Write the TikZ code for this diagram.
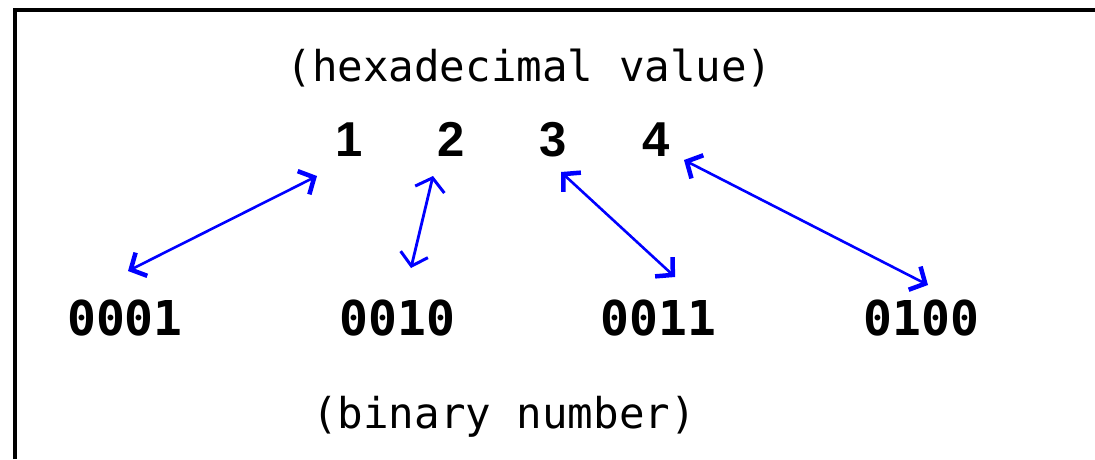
\documentclass[tikz,border=0pt]{standalone}
\usepackage{fontspec}
\usetikzlibrary{arrows.meta}
\newfontfamily\monofont{DejaVu Sans Mono}
\newfontfamily\hexfont{Liberation Sans}
\definecolor{arrowblue}{RGB}{0,0,255}
\tikzset{
  label text/.style={inner sep=0pt, anchor=base, font=\monofont\fontsize{42.5}{50}\selectfont},
  hexdigit/.style={inner sep=0pt, anchor=base, font=\hexfont\bfseries\fontsize{49}{55}\selectfont},
  bindigits/.style={inner sep=0pt, anchor=base, font=\monofont\bfseries\fontsize{48}{55}\selectfont},
  link/.style={draw=arrowblue, line width=2.6pt,
    {Straight Barb[length=12pt,width=26pt,line width=4.5pt]}-{Straight Barb[length=12pt,width=26pt,line width=4.5pt]}},
  thinlink/.style={draw=arrowblue, line width=2.8pt,
    {Straight Barb[length=12pt,width=28pt,line width=3pt]}-{Straight Barb[length=12pt,width=30pt,line width=3pt]}},
  frame/.style={draw=black, line width=4.5pt}
}
\begin{document}
\begin{tikzpicture}[x=1pt,y=-1pt]
\useasboundingbox[fill=white] (0,0) rectangle (1095,459);
% frame (cropped)
\coordinate (fb) at (15,459);
\coordinate (fc) at (15,10);
\coordinate (fr) at (1095,10);
\draw[frame] (fb) -- (fc) -- (fr);
% texts
\node[label text] (hextitle) at (529.5,81) {(hexadecimal value)};
\node[label text] (bintitle) at (504,428) {(binary number)};
\node[hexdigit] (h1) at (349,156) {1};
\node[hexdigit] (h2) at (451,156) {2};
\node[hexdigit] (h3) at (553,156) {3};
\node[hexdigit] (h4) at (656,156) {4};
\node[bindigits] (b1) at (125,335) {0001};
\node[bindigits] (b2) at (397.5,335) {0010};
\node[bindigits] (b3) at (658.5,335) {0011};
\node[bindigits] (b4) at (921.5,335) {0100};
% arrow ends
\coordinate (a1b) at (128,271);
\coordinate (a1h) at (317,176);
\coordinate (a2b) at (411,268);
\coordinate (a2h) at (433,176);
\coordinate (a3b) at (675,277);
\coordinate (a3h) at (561,172);
\coordinate (a4b) at (928,285);
\coordinate (a4h) at (684,160);
\draw[link] (a1b) -- (a1h);
\draw[thinlink] (a2b) -- (a2h);
\draw[link] (a3b) -- (a3h);
\draw[link] (a4b) -- (a4h);
\end{tikzpicture}
\end{document}
